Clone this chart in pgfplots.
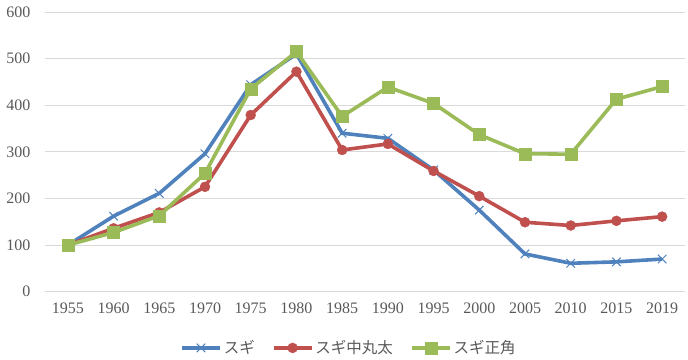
\documentclass[border=0pt]{standalone}
\usepackage{pgfplots}
\pgfplotsset{compat=1.18}
\usepackage{fontspec}
\setmainfont{Liberation Serif}
\newfontfamily\cjk{Noto Sans CJK JP}
\definecolor{cblue}{HTML}{4F81BD}
\definecolor{cred}{HTML}{C0504D}
\definecolor{cgreen}{HTML}{9BBB59}
\definecolor{cgrid}{HTML}{D9D9D9}
\definecolor{ctext}{HTML}{595959}
\begin{document}
\begin{tikzpicture}[x=1pt,y=1pt]
\useasboundingbox (0,0) rectangle (688,359);
\begin{axis}[
  at={(45pt,67.3pt)}, anchor=south west,
  scale only axis, width=640pt, height=279.7pt,
  xmin=-0.5, xmax=13.5, ymin=0, ymax=600,
  xtick={0,...,13},
  xticklabels={1955,1960,1965,1970,1975,1980,1985,1990,1995,2000,2005,2010,2015,2019},
  ytick={0,100,...,600},
  axis line style={draw=none},
  major tick length=0pt,
  ymajorgrids, grid style={cgrid, line width=0.9pt},
  tick label style={font=\fontsize{16}{18}\selectfont, text=ctext},
  /pgf/number format/assume math mode=true,
  xticklabel style={yshift=-8pt},
  yticklabel style={xshift=-11pt},
  clip=false,
  legend style={at={(0.474,-0.201)}, anchor=center, draw=none, fill=none,
    legend columns=-1, font=\cjk\fontsize{15.5}{17}\selectfont, text=ctext,
    /tikz/every odd column/.append style={column sep=1pt},
    /tikz/every even column/.append style={column sep=16pt},
    nodes={inner xsep=1pt}},
  legend image code/.code={\draw[mark repeat=2,mark phase=2] plot coordinates {(0pt,0pt) (19pt,0pt) (38pt,0pt)};},
]
\addplot[cblue, line width=3.6pt, mark=x, mark size=6pt, mark options={line width=1pt}] coordinates {
(0,100) (1,162) (2,211) (3,296) (4,444) (5,510) (6,340) (7,329) (8,261) (9,175) (10,81) (11,61) (12,64) (13,70)};
\addlegendentry{スギ}
\addplot[cred, line width=3.6pt, mark=*, mark size=5pt, mark options={solid, line width=0.4pt}] coordinates {
(0,100) (1,136) (2,170) (3,225) (4,379) (5,472) (6,304) (7,317) (8,259) (9,205) (10,149) (11,142) (12,152) (13,161)};
\addlegendentry{スギ中丸太}
\addplot[cgreen, line width=3.6pt, mark=square*, mark size=6pt, mark options={solid, line width=0.4pt}] coordinates {
(0,100) (1,127) (2,163) (3,254) (4,435) (5,515) (6,376) (7,439) (8,404) (9,337) (10,296) (11,295) (12,413) (13,440)};
\addlegendentry{スギ正角}
\end{axis}
\end{tikzpicture}
\end{document}
